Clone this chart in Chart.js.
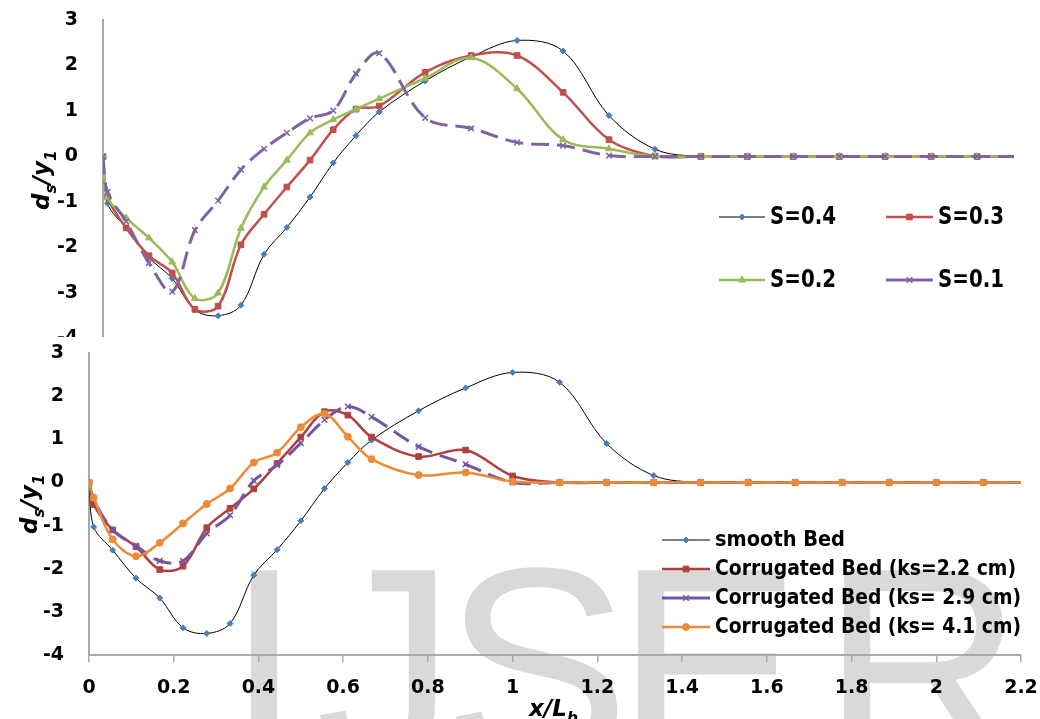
<!DOCTYPE html>
<html>
<head>
<meta charset="utf-8">
<script src="https://cdn.jsdelivr.net/npm/chart.js@4.4.0/dist/chart.umd.min.js"></script>
<style>
  html, body { margin: 0; padding: 0; background: #fff; }
  #wrap { position: relative; width: 1040px; height: 719px; overflow: hidden; }
  #topBox { position: absolute; left: 0; top: 0; width: 1040px; height: 337px; overflow: hidden; }
  #botBox { position: absolute; left: 0; top: 337px; width: 1040px; height: 382px; }
  canvas { display: block; }
</style>
</head>
<body>
<div id="wrap">
  <div id="topBox"><canvas id="topChart" width="1040" height="400" style="width:1040px;height:400px"></canvas></div>
  <div id="botBox"><canvas id="botChart" width="1040" height="382" style="width:1040px;height:382px"></canvas></div>
</div>
<script>
// x/Lb stations (shared by every series)
const xPos = [0, 0.011, 0.056, 0.111, 0.167, 0.222, 0.278, 0.333, 0.389, 0.444, 0.5, 0.556, 0.611, 0.667,
              0.778, 0.889, 1.0, 1.111, 1.222, 1.333, 1.444, 1.556, 1.667, 1.778, 1.889, 2.0, 2.111, 2.222];

// top panel: slope series
const s04 = [0, -1.03, -1.57, -2.22, -2.68, -3.37, -3.50, -3.27, -2.15, -1.56, -0.89, -0.14, 0.46, 0.98,
             1.66, 2.19, 2.55, 2.32, 0.90, 0.16, 0, 0, 0, 0, 0, 0, 0, 0];
const s03 = [0, -0.89, -1.57, -2.18, -2.56, -3.36, -3.29, -1.94, -1.27, -0.67, -0.08, 0.59, 1.04, 1.11,
             1.85, 2.22, 2.22, 1.41, 0.37, 0.01, 0, 0, 0, 0, 0, 0, 0, 0];
const s02 = [0, -0.90, -1.35, -1.79, -2.32, -3.12, -3.00, -1.58, -0.67, -0.08, 0.52, 0.81, 1.04, 1.27,
             1.72, 2.17, 1.49, 0.37, 0.17, 0, 0, 0, 0, 0, 0, 0, 0, 0];
const s01 = [0, -0.78, -1.43, -2.34, -2.97, -1.62, -0.97, -0.29, 0.17, 0.52, 0.84, 1.01, 1.82, 2.27,
             0.85, 0.62, 0.31, 0.24, 0.02, 0, 0, 0, 0, 0, 0, 0, 0, 0];

// bottom panel: bed roughness series
const smoothBed = [0, -1.03, -1.57, -2.22, -2.68, -3.37, -3.50, -3.27, -2.15, -1.56, -0.89, -0.14, 0.46, 0.98,
                   1.66, 2.19, 2.55, 2.32, 0.90, 0.16, 0, 0, 0, 0, 0, 0, 0, 0];
const ks22 = [0, -0.51, -1.10, -1.49, -2.02, -1.94, -1.05, -0.60, -0.15, 0.44, 1.05, 1.64, 1.56, 1.05,
              0.60, 0.75, 0.15, 0, 0, 0, 0, 0, 0, 0, 0, 0, 0, 0];
const ks29 = [0, -0.40, -1.10, -1.47, -1.82, -1.82, -1.18, -0.76, 0.04, 0.40, 0.91, 1.45, 1.76, 1.52,
              0.83, 0.42, 0.0, 0, 0, 0, 0, 0, 0, 0, 0, 0, 0, 0];
const ks41 = [0, -0.35, -1.32, -1.71, -1.40, -0.95, -0.50, -0.14, 0.46, 0.69, 1.28, 1.59, 1.06, 0.54,
              0.17, 0.23, 0.02, 0, 0, 0, 0, 0, 0, 0, 0, 0, 0, 0];

const topLabels = ['S=0.4', 'S=0.3', 'S=0.2', 'S=0.1'];
const botLabels = ['smooth Bed', 'Corrugated Bed (ks=2.2 cm)', 'Corrugated Bed (ks= 2.9 cm)', 'Corrugated Bed (ks= 4.1 cm)'];
const xTicks = [0, 0.2, 0.4, 0.6, 0.8, 1, 1.2, 1.4, 1.6, 1.8, 2, 2.2];
const yTicks = [-4, -3, -2, -1, 0, 1, 2, 3];

const FONT = '"DejaVu Sans", "Open Sans", sans-serif';
const AXIS_GREY = '#a9a9a9';

Chart.defaults.font.family = FONT;
Chart.defaults.color = '#000';

const pts = ys => xPos.map((x, i) => ({ x: x, y: ys[i] }));

function series(label, ys, color, width, style, radius, fill, extra) {
    return Object.assign({
        label: label,
        data: pts(ys),
        borderColor: color,
        borderWidth: width,
        pointStyle: style,
        pointRadius: radius,
        pointBackgroundColor: fill,
        pointBorderColor: fill,
        pointBorderWidth: 1,
        tension: 0.35,
        fill: false
    }, extra || {});
}

// text with subscripts, e.g. d_s / y_1
function drawSubText(ctx, parts, x, y, angle, size) {
    ctx.save();
    ctx.translate(x, y);
    ctx.rotate(angle);
    ctx.fillStyle = '#000';
    ctx.textBaseline = 'alphabetic';
    let cx = 0;
    parts.forEach(([t, sub]) => {
        const fs = sub ? size * 0.66 : size;
        ctx.font = `italic bold ${fs}px ${FONT}`;
        ctx.fillText(t, cx, sub ? size * 0.3 : 0);
        cx += ctx.measureText(t).width;
    });
    ctx.restore();
}

function drawLegend(chart, items, fontSize) {
    const ctx = chart.ctx;
    items.forEach(it => {
        const d = chart.data.datasets[it.ds];
        ctx.save();
        ctx.strokeStyle = d.borderColor;
        ctx.lineWidth = d.borderWidth;
        ctx.setLineDash([]);
        ctx.beginPath();
        ctx.moveTo(it.x1, it.y);
        ctx.lineTo(it.x2, it.y);
        ctx.stroke();
        ctx.fillStyle = d.pointBackgroundColor;
        ctx.strokeStyle = d.pointBorderColor;
        ctx.lineWidth = d.pointBorderWidth;
        Chart.helpers.drawPoint(ctx, { pointStyle: d.pointStyle, radius: d.pointRadius, rotation: 0, borderWidth: d.pointBorderWidth }, (it.x1 + it.x2) / 2, it.y);
        ctx.fillStyle = '#000';
        ctx.font = `bold ${fontSize}px ${FONT}`;
        ctx.textBaseline = 'middle';
        ctx.fillText(d.label, it.tx, it.y + 1, it.w);
        ctx.restore();
    });
}

const yAxis = (width) => ({
    min: -4, max: 3,
    afterBuildTicks: s => { s.ticks = yTicks.map(v => ({ value: v })); },
    afterFit: s => { s.width = width; },
    grid: { display: false, drawTicks: true, tickLength: 25 },
    border: { color: AXIS_GREY, width: 2 },
    ticks: { padding: 0, font: { size: 19, weight: 'bold' }, color: '#000' }
});

// ---------- top panel ----------
new Chart(document.getElementById('topChart'), {
    type: 'line',
    data: {
        datasets: [
            series(topLabels[0], s04, '#000000', 1, 'rectRot', 3, '#4a7ebb', { order: 4 }),
            series(topLabels[1], s03, '#c0504d', 2.5, 'rect', 4, '#c0504d', { order: 3 }),
            series(topLabels[2], s02, '#9bbb59', 2.5, 'triangle', 4, '#9bbb59', { order: 2 }),
            series(topLabels[3], s01, '#8064a2', 3, 'crossRot', 4, '#8064a2', { order: 1, borderDash: [18, 8], pointBorderWidth: 1.5 })
        ]
    },
    options: {
        responsive: false,
        animation: false,
        events: [],
        layout: { padding: { top: 20, right: 26, bottom: 61.5, left: 0 } },
        plugins: { legend: { display: false }, tooltip: { enabled: false } },
        scales: {
            x: { type: 'linear', min: 0, max: 2.2, display: false },
            y: yAxis(103)
        }
    },
    plugins: [{
        id: 'topDecor',
        afterDraw(chart) {
            drawSubText(chart.ctx, [['d', false], ['s', true], ['/y', false], ['1', true]], 49, 210, -Math.PI / 2, 23);
            drawLegend(chart, [
                { ds: 0, x1: 719, x2: 765, tx: 770, y: 217, w: 66 },
                { ds: 1, x1: 886, x2: 933, tx: 938, y: 217, w: 66 },
                { ds: 2, x1: 719, x2: 765, tx: 770, y: 280, w: 66 },
                { ds: 3, x1: 886, x2: 933, tx: 938, y: 280, w: 66 }
            ], 24);
        }
    }]
});

// ---------- bottom panel ----------
new Chart(document.getElementById('botChart'), {
    type: 'line',
    data: {
        datasets: [
            series(botLabels[0], smoothBed, '#000000', 1, 'rectRot', 3, '#4a7ebb', { order: 4 }),
            series(botLabels[1], ks22, '#b0403d', 2.5, 'rect', 4, '#b0403d', { order: 3 }),
            series(botLabels[2], ks29, '#7355a3', 3, 'crossRot', 4, '#7355a3', { order: 2, borderDash: [18, 8], pointBorderWidth: 1.5 }),
            series(botLabels[3], ks41, '#ee8a35', 2.5, 'circle', 3.5, '#ee8a35', { order: 1 })
        ]
    },
    options: {
        responsive: false,
        animation: false,
        events: [],
        layout: { padding: { top: 16, right: 19, bottom: 0, left: 0 } },
        plugins: { legend: { display: false }, tooltip: { enabled: false } },
        scales: {
            x: {
                type: 'linear', min: 0, max: 2.2,
                afterBuildTicks: s => { s.ticks = xTicks.map(v => ({ value: v })); },
                afterFit: s => { s.height = 64; },
                grid: { display: true, drawOnChartArea: false, drawTicks: true, tickLength: 7, color: AXIS_GREY, lineWidth: 1.5 },
                border: { color: AXIS_GREY, width: 2 },
                ticks: { padding: 0, maxRotation: 0, autoSkip: false, font: { size: 19, weight: 'bold', lineHeight: 2.7 }, color: '#000',
                         callback: v => String(v) }
            },
            y: yAxis(89)
        }
    },
    plugins: [{
        id: 'botDecor',
        beforeDraw(chart) {
            // faint publisher watermark behind the plot
            const ctx = chart.ctx;
            ctx.save();
            ctx.fillStyle = '#d9d9d9';
            ctx.font = '280px "Liberation Sans", Arial, sans-serif';
            ctx.textBaseline = 'alphabetic';
            const base = (566 - 337) + ctx.measureText('I').actualBoundingBoxAscent;
            [['I', 247], ['J', 320], ['S', 452], ['E', 637], ['R', 843]].forEach(([ch, left]) => {
                ctx.fillText(ch, left + ctx.measureText(ch).actualBoundingBoxLeft, base);
            });
            ctx.restore();
        },
        afterDraw(chart) {
            drawSubText(chart.ctx, [['d', false], ['s', true], ['/y', false], ['1', true]], 37, 197, -Math.PI / 2, 23);
            drawSubText(chart.ctx, [['x/L', false], ['b', true]], 529, 379, 0, 23);
            drawLegend(chart, [
                { ds: 0, x1: 662, x2: 710, tx: 715, y: 203, w: 130 },
                { ds: 1, x1: 662, x2: 710, tx: 715, y: 232, w: 301 },
                { ds: 2, x1: 662, x2: 710, tx: 715, y: 261, w: 306 },
                { ds: 3, x1: 662, x2: 710, tx: 715, y: 290, w: 306 }
            ], 21);
        }
    }]
});
</script>
</body>
</html>
